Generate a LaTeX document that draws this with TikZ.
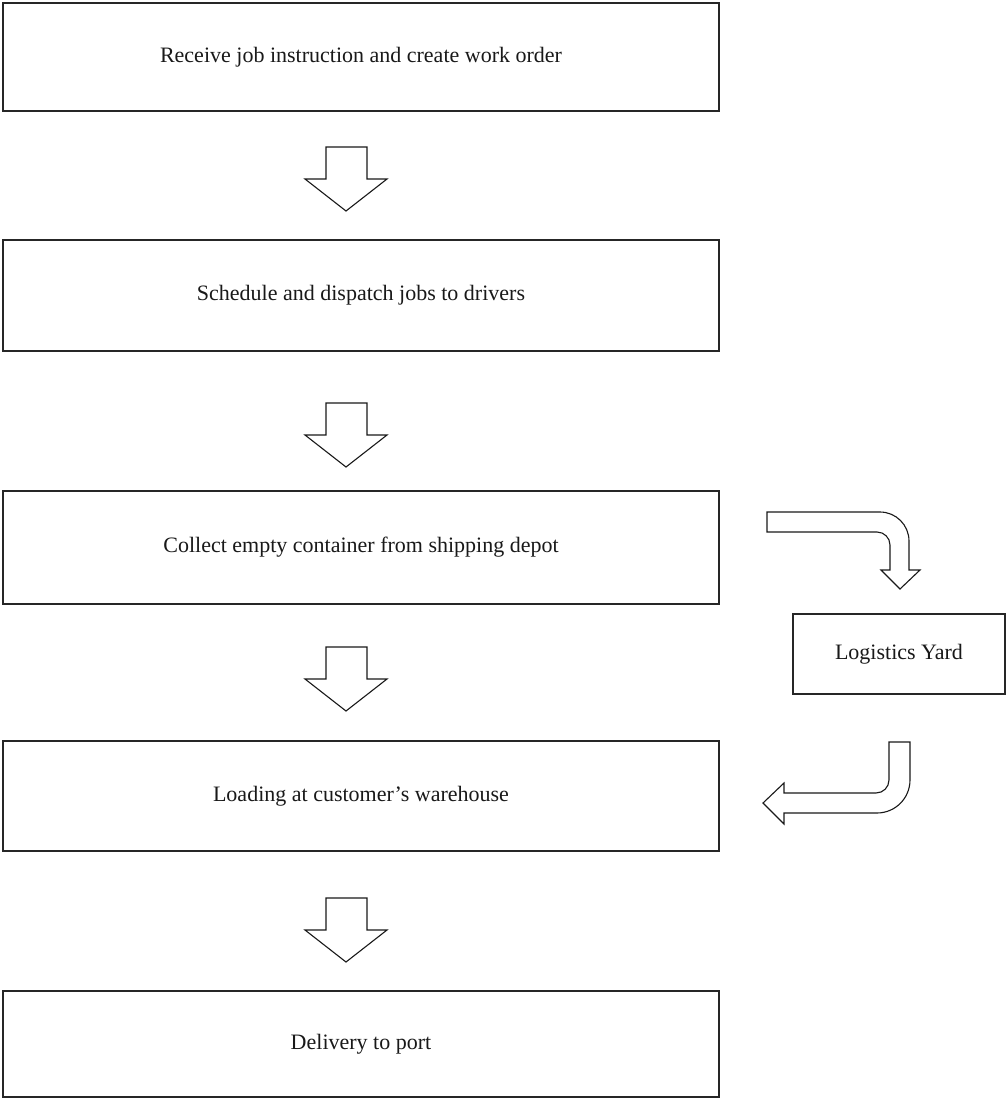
\documentclass[tikz,border=0pt]{standalone}
\usepackage{fontspec}
\setmainfont{Liberation Serif}
\begin{document}
\begin{tikzpicture}[x=1pt,y=-1pt,
  stepbox/.style={draw=black!85,line width=1.1pt,fill=white},
  steptext/.style={font=\fontsize{22}{26}\selectfont,text=black!90,inner sep=0pt},
  blockarrow/.style={draw=black!90,line width=1.1pt,fill=white,line join=miter}]
\useasboundingbox (0,0) rectangle (1005,1101);
\fill[white] (0,0) rectangle (1005,1101);
% boxes
\draw[stepbox] (3,3) rectangle (719,111) node[midway,steptext] (b1) {Receive job instruction and create work order};
\draw[stepbox] (3,240) rectangle (719,351) node[midway,steptext] (b2) {Schedule and dispatch jobs to drivers};
\draw[stepbox] (3,491) rectangle (719,604) node[midway,steptext] (b3) {Collect empty container from shipping depot};
\draw[stepbox] (3,741) rectangle (719,851) node[midway,steptext] (b4) {Loading at customer’s warehouse};
\draw[stepbox] (3,991) rectangle (719,1097) node[midway,steptext] (b5) {Delivery to port};
\draw[stepbox] (793,614) rectangle (1005,694) node[midway,steptext] (ly) {Logistics Yard};
% down arrows
\foreach \t in {147,403,647,898}{
  \draw[blockarrow] (326,\t) -- (367,\t) -- (367,\t+32) -- (387,\t+32) -- (346,\t+64) -- (305,\t+32) -- (326,\t+32) -- cycle;
}
% bent arrow from box 3 to yard
\draw[blockarrow] (767,512) -- (880,512) arc[start angle=-90,end angle=0,radius=29] -- (909,570) -- (920,570) -- (900,589) -- (881,570) -- (890,570) -- (890,545) arc[start angle=0,end angle=-90,radius=13] -- (767,532) -- cycle;
% bent arrow from yard to box 4
\draw[blockarrow] (889,742) -- (910,742) -- (910,780) arc[start angle=0,end angle=90,radius=33] -- (784,813) -- (784,824) -- (763,803) -- (784,783) -- (784,793) -- (876,793) arc[start angle=90,end angle=0,radius=13] -- cycle;
\end{tikzpicture}
\end{document}
